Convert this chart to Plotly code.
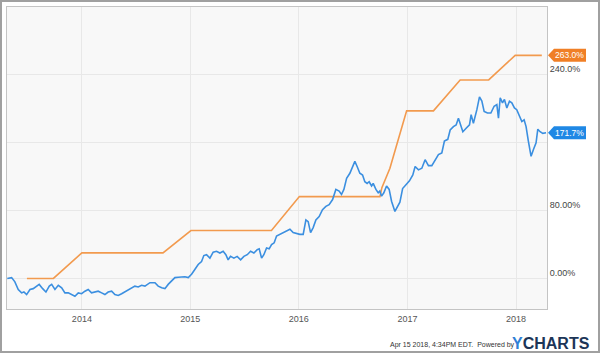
import pandas as pd
import plotly.graph_objects as go

# ---- data (decimal years, values in %) ----
blue_t = [
    2013.312, 2013.352, 2013.382, 2013.413, 2013.444, 2013.465, 2013.490, 2013.521, 2013.551, 2013.576,
    2013.606, 2013.638, 2013.668, 2013.699, 2013.721, 2013.751, 2013.782, 2013.813, 2013.843, 2013.874,
    2013.905, 2013.935, 2013.966, 2013.997, 2014.028, 2014.058, 2014.089, 2014.120, 2014.150, 2014.182,
    2014.212, 2014.242, 2014.274, 2014.304, 2014.335, 2014.366, 2014.396, 2014.427, 2014.458, 2014.488,
    2014.519, 2014.550, 2014.581, 2014.611, 2014.627, 2014.673, 2014.703, 2014.735, 2014.765, 2014.795,
    2014.827, 2014.857, 2014.888, 2014.919, 2014.949, 2014.980, 2015.011, 2015.041, 2015.072, 2015.103,
    2015.124, 2015.149, 2015.180, 2015.210, 2015.241, 2015.272, 2015.302, 2015.327, 2015.348, 2015.370,
    2015.401, 2015.431, 2015.463, 2015.493, 2015.524, 2015.555, 2015.585, 2015.616, 2015.634, 2015.656,
    2015.677, 2015.702, 2015.726, 2015.748, 2015.772, 2015.794, 2015.825, 2015.855, 2015.887, 2015.917,
    2015.947, 2015.979, 2016.009, 2016.040, 2016.065, 2016.086, 2016.108, 2016.132, 2016.157, 2016.187,
    2016.218, 2016.249, 2016.279, 2016.311, 2016.341, 2016.371, 2016.393, 2016.415, 2016.440, 2016.470,
    2016.495, 2016.516, 2016.537, 2016.562, 2016.587, 2016.608, 2016.629, 2016.648, 2016.670, 2016.685,
    2016.710, 2016.731, 2016.746, 2016.762, 2016.783, 2016.808, 2016.832, 2016.854, 2016.885, 2016.906,
    2016.931, 2016.956, 2016.986, 2017.017, 2017.048, 2017.069, 2017.100, 2017.131, 2017.161, 2017.192,
    2017.223, 2017.253, 2017.284, 2017.315, 2017.339, 2017.370, 2017.392, 2017.422, 2017.447, 2017.468,
    2017.490, 2017.509, 2017.539, 2017.570, 2017.585, 2017.606, 2017.638, 2017.662, 2017.684, 2017.705,
    2017.735, 2017.767, 2017.797, 2017.822, 2017.837, 2017.853, 2017.874, 2017.892, 2017.914, 2017.938,
    2017.960, 2017.984, 2018.006, 2018.030, 2018.053, 2018.074, 2018.092, 2018.113, 2018.138, 2018.160,
    2018.184, 2018.200, 2018.221, 2018.246, 2018.276,
]
blue_v = [
    0, 1, -4, -13, -17, -16, -19, -13, -12, -10,
    -7, -12, -16, -9, -7, -13, -8, -11, -17, -17,
    -19, -21, -17, -18, -15, -13, -17, -16, -15, -17,
    -19, -16, -15, -19, -20, -18, -16, -14, -11, -9,
    -10, -8, -9, -7, -5, -5, -9, -11, -12, -7,
    -3, 1, 1.5, 1.5, 2, 1, 5, 10.6, 16.5, 20,
    27, 28, 24, 31, 32, 30, 32, 28, 22, 26,
    24, 26, 22, 26, 28, 32, 30, 34, 35, 24,
    28, 36, 35, 40, 42, 50, 52, 54, 56, 58,
    54, 53, 52, 52, 69, 67, 54, 60, 69, 73,
    81, 85, 87, 93, 105, 103, 99, 105, 118, 124,
    132, 138, 132, 124, 122, 114, 112, 114, 109, 112,
    105, 101, 103, 97, 101, 109, 105, 91, 79, 85,
    90, 106, 110, 115, 122, 132, 128, 130, 140, 133,
    133, 140, 146, 148, 162, 164, 175, 179, 181, 189,
    179, 173, 177, 181, 193, 183, 199, 214, 209, 197,
    195, 195, 203, 205, 189, 213, 207, 211, 201, 209,
    207, 201, 199, 191, 185, 187, 179, 162, 144, 152,
    160, 176, 173, 171, 171.7,
]
orange_t = [2013.493, 2013.737, 2014.000, 2014.747, 2015.005, 2015.747, 2016.005, 2016.747,
            2016.765, 2016.839, 2016.993, 2017.238, 2017.484, 2017.747, 2017.991, 2018.237]
orange_v = [0, 0, 30.2, 30.2, 56.5, 56.5, 96.5, 96.5, 107, 130, 197.6, 197.6, 234, 234, 263, 263]

y_tickvals = [0, 80, 160, 240]
y_ticktext = ["0.00%", "80.00%", "", "240.0%"]
x_range = ["2013-04-24", "2018-04-15"]
y_range = [-36, 320]

blue_last_label = "171.7%"
orange_last_label = "263.0%"
footer_text = "Apr 15 2018, 4:34PM EDT.  Powered by"

BLUE = "#3b8fe0"
ORANGE = "#f29a4e"
FONT = "Liberation Sans"


def to_date(t):
    y = int(t)
    return pd.Timestamp(year=y, month=1, day=1) + pd.Timedelta(days=(t - y) * 365.25)


blue_x = [to_date(t) for t in blue_t]
orange_x = [to_date(t) for t in orange_t]

fig = go.Figure()
fig.add_trace(go.Scatter(x=orange_x, y=orange_v, mode="lines",
                         line=dict(color=ORANGE, width=1.6), hoverinfo="skip"))
fig.add_trace(go.Scatter(x=blue_x, y=blue_v, mode="lines",
                         line=dict(color=BLUE, width=1.6), hoverinfo="skip"))

L, R, T, B = 7, 547, 7, 309
W, H = 600, 353
pw, ph = R - L, B - T

fig.update_layout(
    width=W, height=H,
    margin=dict(l=L, r=W - R, t=T, b=H - B, pad=0),
    paper_bgcolor="white",
    plot_bgcolor="#f8f8f8",
    showlegend=False,
    font=dict(family=FONT, size=9, color="#555555"),
    xaxis=dict(
        type="date", range=x_range,
        tick0="2014-01-01", dtick="M12", tickformat="%Y",
        showgrid=True, gridcolor="#e8e8e8", gridwidth=1,
        showline=True, linecolor="#c4c4c4", linewidth=1, mirror=True,
        ticks="", zeroline=False,
        tickfont=dict(family=FONT, size=9, color="#555555"),
        ticklabelstandoff=1,
    ),
    yaxis=dict(
        range=y_range, side="right",
        tickvals=y_tickvals, ticktext=y_ticktext,
        showgrid=True, gridcolor="#e8e8e8", gridwidth=1,
        showline=True, linecolor="#c4c4c4", linewidth=1, mirror=True,
        ticks="", zeroline=False,
        tickfont=dict(family=FONT, size=9, color="#444444"),
        ticklabelshift=-6, ticklabelstandoff=0,
    ),
)

# value tags at the right edge
tag_path = "M 1,0 L 7,6.5 L 39,6.5 L 39,-6.5 L 7,-6.5 Z"
for val, lbl, col in [(orange_v[-1], orange_last_label, "#f07f26"),
                      (blue_v[-1], blue_last_label, "#1f88e5")]:
    fig.add_shape(type="path", xref="paper", yref="y",
                  xsizemode="pixel", ysizemode="pixel",
                  xanchor=1, yanchor=val, path=tag_path,
                  fillcolor=col, line=dict(width=0), layer="above")
    fig.add_annotation(x=1, y=val, xref="paper", yref="y", text=lbl,
                       showarrow=False, xanchor="center", xshift=22,
                       font=dict(family=FONT, size=8.5, color="white"))

# footer
fig.add_annotation(x=(517 - L) / pw, y=-(345 - B) / ph, xref="paper", yref="paper",
                   text=footer_text, showarrow=False, xanchor="right", yanchor="middle",
                   font=dict(family=FONT, size=7, color="#333333"))
fig.add_annotation(x=(592 - L) / pw, y=-(343 - B) / ph, xref="paper", yref="paper",
                   text="<b><span style='color:#2f7fd6'>Y</span>CHARTS</b>",
                   showarrow=False, xanchor="right", yanchor="middle",
                   font=dict(family=FONT, size=16, color="#1c3557"))

# outer frame
fig.add_shape(type="rect", xref="paper", yref="paper",
              x0=(1 - L) / pw, x1=(599 - L) / pw,
              y0=(B - 352) / ph, y1=(B - 1) / ph,
              line=dict(color="#a0a0a0", width=2), fillcolor="rgba(0,0,0,0)", layer="above")

fig.write_html("out.html")
